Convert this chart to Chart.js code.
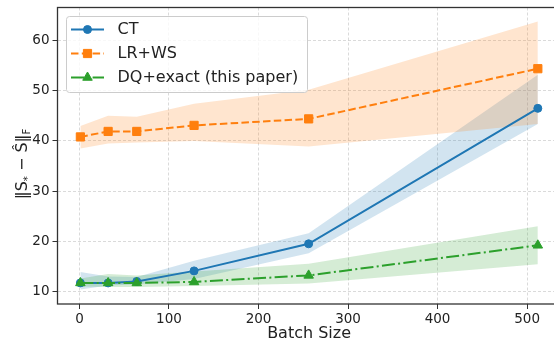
<!DOCTYPE html>
<html><head><meta charset="utf-8">
<script src="https://cdn.jsdelivr.net/npm/chart.js@4"></script>
<style>html,body{margin:0;padding:0;background:#fff;overflow:hidden;width:554px;height:343px;} #wrap{width:554px;height:343px;overflow:hidden;position:relative;} #c{position:absolute;left:0;top:0;}</style>
</head><body><div id="wrap"><canvas id="c" width="562" height="343" style="width:562px;height:343px"></canvas></div>
<script>
const batchSizes = [1, 32, 64, 128, 256, 512];
const ctMean = [11.7, 11.7, 12.0, 14.1, 19.5, 46.5];
const ctLow  = [10.4, 11.2, 11.4, 12.5, 17.6, 43.4];
const ctHigh = [13.9, 13.0, 12.9, 16.1, 21.6, 53.2];
const lrMean = [40.8, 41.9, 41.9, 43.1, 44.4, 54.4];
const lrLow  = [38.5, 39.5, 39.7, 40.0, 38.9, 43.4];
const lrHigh = [43.0, 45.0, 44.8, 47.4, 50.2, 63.8];
const dqMean = [11.7, 11.7, 11.7, 11.9, 13.2, 19.2];
const dqLow  = [11.0, 10.9, 10.9, 11.1, 11.6, 15.4];
const dqHigh = [12.6, 13.5, 13.2, 14.0, 15.5, 23.0];
const xTicks = [0, 100, 200, 300, 400, 500];
const yTicks = [10, 20, 30, 40, 50, 60];
const seriesLabels = ['CT', 'LR+WS', 'DQ+exact (this paper)'];
const xTitle = 'Batch Size';

const FONT = "'DejaVu Sans', sans-serif";
const pts = arr => arr.map((v, i) => ({x: batchSizes[i], y: v}));

const series = [
  {label: seriesLabels[0], mean: ctMean, low: ctLow, high: ctHigh, color: '#1f77b4', fill: 'rgba(31,119,180,0.2)', dash: [], style: 'circle', r: 4, order: -1, bandOrder: 3},
  {label: seriesLabels[1], mean: lrMean, low: lrLow, high: lrHigh, color: '#ff7f0e', fill: 'rgba(255,127,14,0.2)', dash: [7.5, 3.3], style: 'rect', r: 5.8, order: -2, bandOrder: 2},
  {label: seriesLabels[2], mean: dqMean, low: dqLow, high: dqHigh, color: '#2ca02c', fill: 'rgba(44,160,44,0.2)', dash: [13, 3.3, 2, 3.3], style: 'triangle', r: 5.5, order: -3, bandOrder: 1},
];

const datasets = [];
series.forEach(s => {
  datasets.push({label: s.label, data: pts(s.mean), borderColor: s.color, backgroundColor: s.color,
    borderWidth: 2, borderDash: s.dash, pointStyle: s.style, pointRadius: s.r, pointBorderWidth: 1,
    pointBorderColor: s.color, pointBackgroundColor: s.color, tension: 0, fill: false, order: s.order});
  datasets.push({label: s.label + ' low', data: pts(s.low), borderColor: 'transparent', borderWidth: 0,
    pointRadius: 0, fill: false, order: s.bandOrder, tension: 0});
  datasets.push({label: s.label + ' high', data: pts(s.high), borderColor: 'transparent', borderWidth: 0,
    pointRadius: 0, fill: '-1', backgroundColor: s.fill, order: s.bandOrder, tension: 0});
});

function marker(ctx, style, x, y, r, color) {
  ctx.save();
  ctx.fillStyle = color; ctx.strokeStyle = color; ctx.lineWidth = 1; ctx.setLineDash([]);
  ctx.beginPath();
  if (style === 'circle') { ctx.arc(x, y, r, 0, Math.PI * 2); }
  else if (style === 'rect') { const h = r * Math.SQRT1_2; ctx.rect(x - h, y - h, 2 * h, 2 * h); }
  else if (style === 'triangle') {
    ctx.moveTo(x, y - r);
    ctx.lineTo(x + r * Math.sin(Math.PI * 2 / 3), y - r * Math.cos(Math.PI * 2 / 3));
    ctx.lineTo(x - r * Math.sin(Math.PI * 2 / 3), y - r * Math.cos(Math.PI * 2 / 3));
    ctx.closePath();
  }
  ctx.fill(); ctx.stroke();
  ctx.restore();
}

const framePlugin = {
  id: 'frame',
  afterDatasetsDraw(chart) {
    const {ctx, chartArea: a} = chart;
    ctx.save();
    ctx.strokeStyle = '#333'; ctx.lineWidth = 1.3; ctx.setLineDash([]);
    ctx.strokeRect(a.left, a.top, a.right - a.left, a.bottom - a.top);
    ctx.restore();
  },
  afterDraw(chart) {
    const ctx = chart.ctx;
    ctx.save();
    const bx = 66, by = 16, bw = 241, bh = 76;
    ctx.beginPath();
    ctx.roundRect(bx + 0.5, by + 0.5, bw, bh, 3);
    ctx.fillStyle = 'rgba(255,255,255,0.8)'; ctx.fill();
    ctx.strokeStyle = '#cccccc'; ctx.lineWidth = 1; ctx.stroke();
    series.forEach((s, i) => {
      const y = 29.5 + i * 24;
      ctx.beginPath();
      ctx.setLineDash(s.dash); ctx.lineDashOffset = 0;
      ctx.strokeStyle = s.color; ctx.lineWidth = 2;
      ctx.moveTo(71, y); ctx.lineTo(104, y); ctx.stroke();
      ctx.setLineDash([]);
      marker(ctx, s.style, 87.5, y, s.r, s.color);
      ctx.fillStyle = '#222'; ctx.font = '16px ' + FONT; ctx.textBaseline = 'middle'; ctx.textAlign = 'left';
      ctx.fillText(s.label, 117.5, y + 0.5);
    });
    ctx.restore();
    ctx.save();
    ctx.translate(21, 164);
    ctx.rotate(-Math.PI / 2);
    ctx.fillStyle = '#222'; ctx.textBaseline = 'alphabetic';
    const big = '16px ' + FONT, small = '10px ' + FONT;
    const parts = [
      {t: '\u2016S', f: big, dy: 0},
      {t: '*', f: small, dy: 4},
      {t: ' \u2212 \u015C\u2016', f: big, dy: 0},
      {t: 'F', f: small, dy: 3},
    ];
    let total = 0;
    parts.forEach(p => { ctx.font = p.f; p.w = ctx.measureText(p.t).width; total += p.w; });
    let x = -total / 2;
    parts.forEach(p => { ctx.font = p.f; ctx.fillText(p.t, x, 6 + p.dy); x += p.w; });
    ctx.restore();
  }
};

new Chart(document.getElementById('c'), {
  type: 'line',
  data: {datasets},
  options: {
    responsive: false,
    animation: false,
    devicePixelRatio: 1,
    layout: {autoPadding: false, padding: {left: 0, top: 7.5, right: 1.3, bottom: 0}},
    plugins: {legend: {display: false}, tooltip: {enabled: false}},
    scales: {
      x: {
        type: 'linear', min: -24.55, max: 537.55,
        afterBuildTicks: s => { s.ticks = xTicks.map(v => ({value: v})); },
        afterFit: s => { s.height = 39; s.paddingLeft = 0; s.paddingRight = 0; },
        grid: {color: 'rgba(176,176,176,0.6)', lineWidth: 0.8, tickLength: 5, tickColor: '#333', tickWidth: 1},
        border: {display: false, dash: [3, 2]},
        ticks: {color: '#222', font: {family: FONT, size: 13.5}, padding: 2, maxRotation: 0},
        title: {display: true, text: xTitle, color: '#222', font: {family: FONT, size: 16}, padding: {top: 0, bottom: 0}}
      },
      y: {
        type: 'linear', min: 7.5, max: 66.6,
        afterBuildTicks: s => { s.ticks = yTicks.map(v => ({value: v})); },
        afterFit: s => { s.width = 57.5; s.paddingTop = 0; s.paddingBottom = 0; },
        grid: {color: 'rgba(176,176,176,0.6)', lineWidth: 0.8, tickLength: 5, tickColor: '#333', tickWidth: 1},
        border: {display: false, dash: [3, 2]},
        ticks: {color: '#222', font: {family: FONT, size: 13.5}, padding: 3}
      }
    }
  },
  plugins: [framePlugin]
});
</script>
</body></html>
